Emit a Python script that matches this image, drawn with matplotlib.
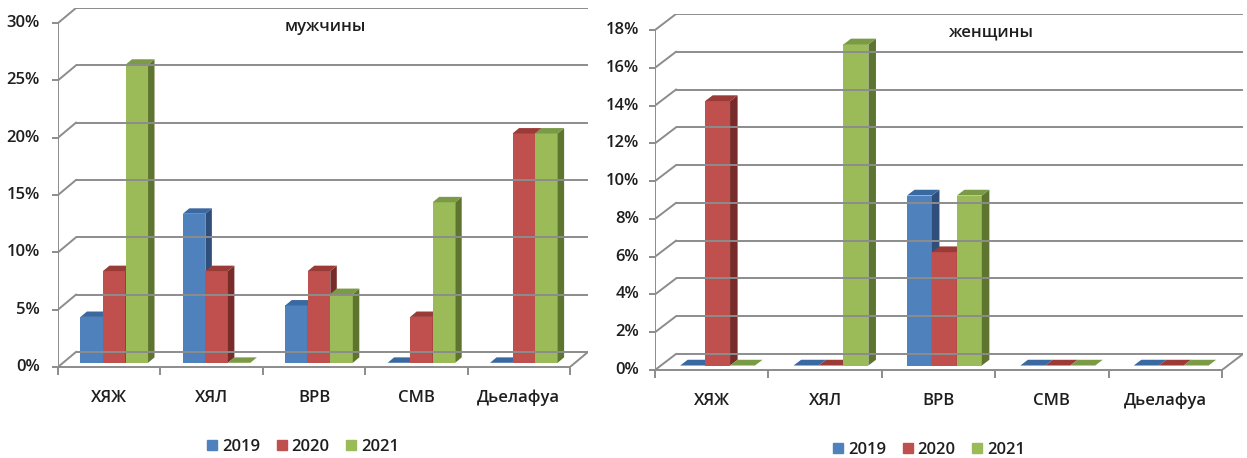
import matplotlib.pyplot as plt
from matplotlib.patches import Patch

plt.rcParams['font.family'] = ['Open Sans', 'DejaVu Sans']
plt.rcParams['font.weight'] = 'semibold'

categories = ['ХЯЖ', 'ХЯЛ', 'ВРВ', 'СМВ', 'Дьелафуа']
years = ['2019', '2020', '2021']

# percent of patients, men
men_2019 = [4, 13, 5, 0, 0]
men_2020 = [8, 8, 8, 4, 20]
men_2021 = [26, 0, 6, 14, 20]

# percent of patients, women
women_2019 = [0, 0, 9, 0, 0]
women_2020 = [14, 0, 6, 0, 0]
women_2021 = [0, 17, 9, 0, 0]

men_ticks = [0, 5, 10, 15, 20, 25, 30]
women_ticks = [0, 2, 4, 6, 8, 10, 12, 14, 16, 18]

front_col = ['#4F81BD', '#C0504D', '#9BBB59']
side_col = ['#2F4F7A', '#772C2A', '#5E7530']
top_col = ['#3A68A0', '#9B3B38', '#7A9A45']
grid_col = '#8C8C8C'
text_col = '#1E1E1E'

W, H = 1247, 458
fig = plt.figure(figsize=(W / 100, H / 100), dpi=100)


def chart(rect, series, ticks, dx, dy, title, title_pos, label_gap, legend_pos):
    # rect = (left, bottom, right, top) of the 3d box in pixels (top-left origin)
    left, bottom, right, top = rect
    ax = fig.add_axes([left / W, 1 - bottom / H, (right - left) / W, (bottom - top) / H])
    ymax = ticks[-1]
    ax.set_xlim(0, len(categories) + dx)
    ax.set_ylim(0, ymax + dy)
    ax.axis('off')

    def P(x, v, z):
        return x + z * dx, v + z * dy

    lw = 1.4
    n = len(categories)
    # back wall gridlines + side wall diagonals
    for t in ticks:
        x0, y0 = P(0, t, 1)
        x1, y1 = P(n, t, 1)
        ax.plot([x0, x1], [y0, y1], color=grid_col, lw=lw, solid_capstyle='butt')
        ax.plot([0, x0], [t, y0], color=grid_col, lw=lw)
        ax.annotate(f'{t}%', (0, t), xytext=(-label_gap, 0), textcoords='offset points',
                    ha='right', va='center', fontsize=12, color=text_col,
                    annotation_clip=False)
    ax.plot([0, 0], [0, ymax], color=grid_col, lw=lw)
    ax.plot([0] * len(ticks), ticks, ls='none', marker=0, ms=4, mew=lw, color=grid_col,
            clip_on=False)
    # floor
    ax.plot([0, n], [0, 0], color=grid_col, lw=lw, clip_on=False)
    xr, yr = P(n, 0, 1)
    ax.plot([n, xr], [0, yr], color=grid_col, lw=lw)
    ax.plot(range(n + 1), [0] * (n + 1), ls='none', marker=3, ms=6, mew=lw,
            color=grid_col, clip_on=False)

    # bars
    w = 0.22
    z0, z1 = 0.28, 0.64
    for i in range(n):
        for j, vals in enumerate(series):
            h = vals[i]
            xa = i + 0.5 - 1.5 * w + j * w
            xb = xa + w
            front = [P(xa, 0, z0), P(xb, 0, z0), P(xb, h, z0), P(xa, h, z0)]
            side = [P(xb, 0, z0), P(xb, 0, z1), P(xb, h, z1), P(xb, h, z0)]
            topf = [P(xa, h, z0), P(xb, h, z0), P(xb, h, z1), P(xa, h, z1)]
            if h > 0:
                ax.fill(*zip(*front), color=front_col[j], lw=0)
                ax.fill(*zip(*side), color=side_col[j], lw=0)
            ax.fill(*zip(*topf), color=top_col[j], lw=0)

    for i, c in enumerate(categories):
        ax.annotate(c, (i + 0.5, 0), xytext=(0, -22), textcoords='offset points',
                    ha='center', va='center', fontsize=12, color=text_col,
                    annotation_clip=False)

    ax.text(title_pos[0], title_pos[1], title, transform=ax.transAxes, ha='center',
            va='center', fontsize=12, color=text_col)

    handles = [Patch(color=front_col[j], label=years[j]) for j in range(3)]
    fig.legend(handles=handles, loc='center', ncol=3, frameon=False,
               bbox_to_anchor=(legend_pos[0] / W, 1 - legend_pos[1] / H),
               fontsize=12, handlelength=0.6, handleheight=0.6, handletextpad=0.3,
               columnspacing=1.0, labelcolor=text_col)


chart((58, 367, 588, 8), [men_2019, men_2020, men_2021], men_ticks,
      18 / 102.4, 15 / 11.43, 'мужчины', (0.504, 0.947), 13, (303, 447))
chart((655, 370, 1243, 14), [women_2019, women_2020, women_2021], women_ticks,
      21 / 113.4, 16 / 18.89, 'женщины', (0.57, 0.949), 11.5, (929, 450))

fig.savefig('out.png', dpi=100, facecolor='white')
